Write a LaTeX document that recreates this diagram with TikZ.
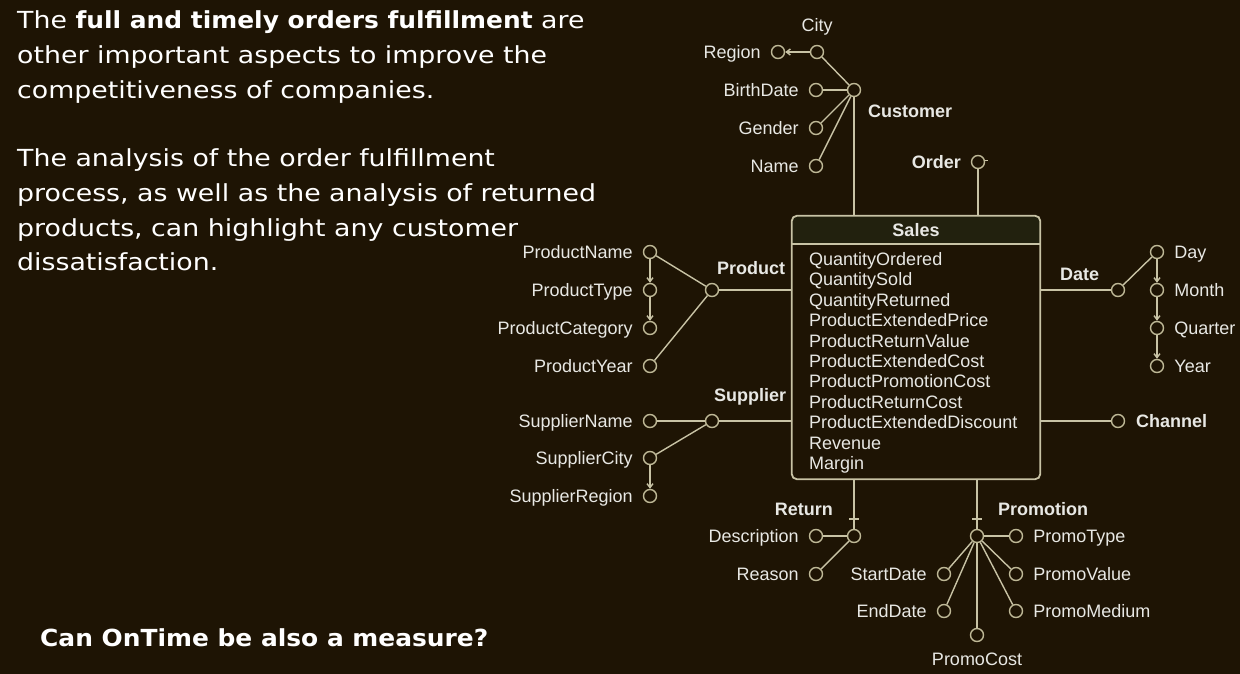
\documentclass[tikz,border=0pt]{standalone}
\usepackage{fontspec}
\usetikzlibrary{arrows.meta}
\newfontfamily\notefont[FakeStretch=1.14,BoldFeatures={FakeStretch=1.06}]{DejaVu Sans}
\newfontfamily\erfont{Liberation Sans}
\definecolor{bg}{RGB}{30,20,4}
\definecolor{headbg}{RGB}{34,33,14}
\definecolor{edge}{RGB}{200,195,165}
\definecolor{ring}{RGB}{190,184,150}
\definecolor{ink}{RGB}{232,232,228}

\begin{document}
\begin{tikzpicture}[x=1pt,y=-1pt,
  attr/.style={circle, draw=ring, line width=1.4pt, minimum size=13pt, inner sep=0pt, fill=bg},
  lab/.style={font=\erfont\fontsize{18}{20}\selectfont, text=ink, inner sep=0pt, text height=16pt, text depth=3pt},
  meas/.style={font=\erfont\fontsize{18}{20}\selectfont, text=ink, inner sep=0pt, anchor=base west},
  ent/.style={font=\erfont\bfseries\fontsize{18}{20}\selectfont, text=ink, inner sep=0pt, anchor=base west},
  L/.style={label={[lab, xshift=-10pt]left:#1}},
  R/.style={label={[lab, xshift=10pt]right:#1}},
  conn/.style={draw=edge, line width=1.4pt},
  hier/.style={conn, -{Straight Barb[length=4pt,width=6pt]}},
  note/.style={font=\notefont\fontsize{23.5}{34.6}\selectfont, text=white, inner sep=0pt, anchor=base west},
]
\fill[bg] (0,0) rectangle (1240,674);
\useasboundingbox (0,0) rectangle (1240,674);

% ---- explanatory text ----
\node[note] (t1) at (17,28.3) {The \textbf{full and timely orders fulfillment} are};
\node[note] (t2) at (17,63.3) {other important aspects to improve the};
\node[note] (t3) at (17,98.5) {competitiveness of companies.};
\node[note] (t4) at (17,166.7) {The analysis of the order fulfillment};
\node[note] (t5) at (17,201.5) {process, as well as the analysis of returned};
\node[note] (t6) at (17,236) {products, can highlight any customer};
\node[note] (t7) at (17,270.5) {dissatisfaction.};
\node[note] (q) at (40,646) {\bfseries Can OnTime be also a measure?};

% ---- fact ----
\node[minimum width=248pt, minimum height=263pt, inner sep=0pt] (sales) at (916,347.5) {};
\begin{scope}
  \clip[rounded corners=5pt] (sales.north west) rectangle (sales.south east);
  \fill[headbg] (sales.north west) rectangle ([yshift=-28pt]sales.north east);
\end{scope}
\draw[edge, line width=1.8pt, rounded corners=5pt] (sales.north west) rectangle (sales.south east);
\draw[edge, line width=1.5pt] ([yshift=-28pt]sales.north west) -- ([yshift=-28pt]sales.north east);
\node[ent, anchor=base] (salestitle) at (916,236.5) {Sales};
\foreach \m [count=\i from 0] in {QuantityOrdered,QuantitySold,QuantityReturned,ProductExtendedPrice,ProductReturnValue,ProductExtendedCost,ProductPromotionCost,ProductReturnCost,ProductExtendedDiscount,Revenue,Margin}
  \node[meas] (m\i) at (809,265.5+20.4*\i) {\m};

% ---- Customer ----
\node[attr, label={[lab, yshift=10pt]above:City}] (city) at (817,52) {};
\node[attr, L=Region] (region) at (778,52) {};
\node[attr, L=BirthDate] (birth) at (816,90) {};
\node[attr] (cust) at (854,90) {};
\node[attr, L=Gender] (gender) at (816,128) {};
\node[attr, L=Name] (cname) at (816,166) {};
\node[ent] (custlbl) at (868,117.5) {Customer};
\draw[conn] (cust) -- (city);
\draw[conn] (cust) -- (birth);
\draw[conn] (cust) -- (gender);
\draw[conn] (cust) -- (cname);
\draw[hier] (city) -- (region);
\draw[conn] (cust) -- (cust |- sales.north);

% ---- Order (degenerate) ----
\node[attr] (order) at (978,162) {};
\node[ent, anchor=base east] (orderlbl) at (961,168.5) {Order};
\draw[conn] (order) -- (order |- sales.north);
\draw[conn, line width=1pt] (order.15) -- ++(3,0);

% ---- Product ----
\node[attr] (prod) at (712,290) {};
\node[attr, L=ProductName] (pname) at (650,252) {};
\node[attr, L=ProductType] (ptype) at (650,290) {};
\node[attr, L=ProductCategory] (pcat) at (650,328) {};
\node[attr, L=ProductYear] (pyear) at (650,366) {};
\node[ent] (prodlbl) at (717,274.5) {Product};
\draw[conn] (prod) -- (pname);
\draw[conn] (prod) -- (pyear);
\draw[conn] (prod) -- (prod -| sales.west);
\draw[hier] (pname) -- (ptype);
\draw[hier] (ptype) -- (pcat);

% ---- Supplier ----
\node[attr] (supp) at (712,421) {};
\node[attr, L=SupplierName] (sname) at (650,421) {};
\node[attr, L=SupplierCity] (scity) at (650,458) {};
\node[attr, L=SupplierRegion] (sreg) at (650,496) {};
\node[ent] (supplbl) at (714,401.5) {Supplier};
\draw[conn] (supp) -- (sname);
\draw[conn] (supp) -- (scity);
\draw[conn] (supp) -- (supp -| sales.west);
\draw[hier] (scity) -- (sreg);

% ---- Date ----
\node[attr] (date) at (1118,290) {};
\node[attr, R=Day] (day) at (1157,252) {};
\node[attr, R=Month] (month) at (1157,290) {};
\node[attr, R=Quarter] (quarter) at (1157,328) {};
\node[attr, R=Year] (year) at (1157,366) {};
\node[ent] (datelbl) at (1060,280.5) {Date};
\draw[conn] (date) -- (date -| sales.east);
\draw[conn] (date) -- (day);
\draw[hier] (day) -- (month);
\draw[hier] (month) -- (quarter);
\draw[hier] (quarter) -- (year);

% ---- Channel ----
\node[attr] (chan) at (1118,421) {};
\node[ent] (chanlbl) at (1136,427.5) {Channel};
\draw[conn] (chan) -- (chan -| sales.east);

% ---- Return ----
\node[attr] (ret) at (854,536) {};
\node[attr, L=Description] (desc) at (816,536) {};
\node[attr, L=Reason] (reason) at (816,574) {};
\node[ent, anchor=base east] (retlbl) at (833,515.5) {Return};
\draw[conn] (ret) -- (ret |- sales.south);
\draw[conn] (849,519) -- (859,519);
\draw[conn] (ret) -- (desc);
\draw[conn] (ret) -- (reason);

% ---- Promotion ----
\node[attr] (promo) at (977,536) {};
\node[attr, R=PromoType] (ptyp) at (1016,536) {};
\node[attr, R=PromoValue] (pval) at (1016,574) {};
\node[attr, R=PromoMedium] (pmed) at (1016,611) {};
\node[attr, label={[lab, yshift=-7pt]below:PromoCost}] (pcost) at (977,635) {};
\node[attr, L=StartDate] (pstart) at (944,574) {};
\node[attr, L=EndDate] (pend) at (944,611) {};
\node[ent] (promolbl) at (998,515.5) {Promotion};
\draw[conn] (promo) -- (promo |- sales.south);
\draw[conn] (972,519) -- (982,519);
\draw[conn] (promo) -- (ptyp);
\draw[conn] (promo) -- (pval);
\draw[conn] (promo) -- (pmed);
\draw[conn] (promo) -- (pcost);
\draw[conn] (promo) -- (pstart);
\draw[conn] (promo) -- (pend);
\end{tikzpicture}
\end{document}
